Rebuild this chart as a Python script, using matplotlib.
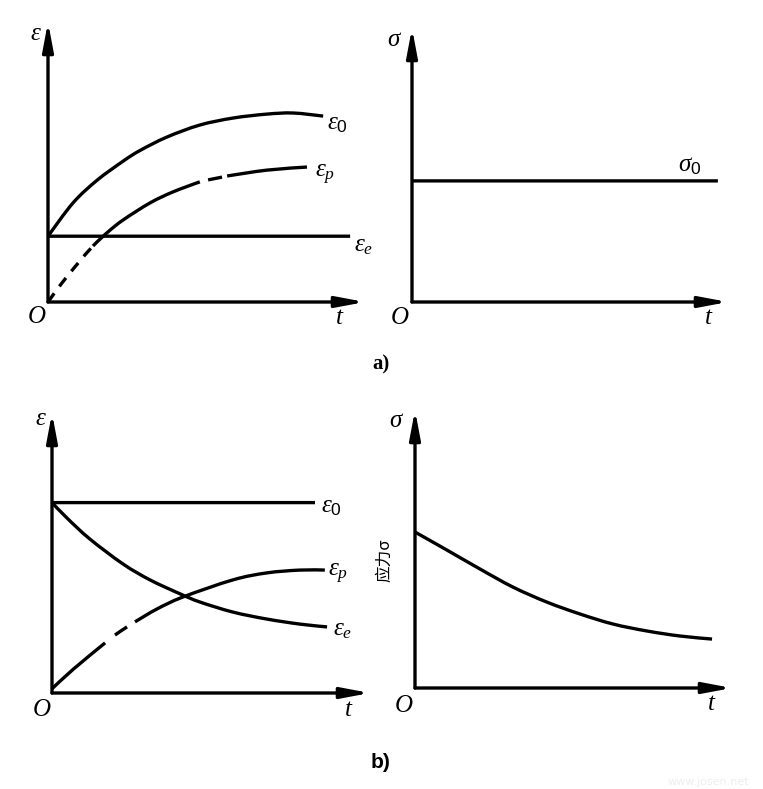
import matplotlib
matplotlib.use("Agg")
import matplotlib.pyplot as plt
from matplotlib.path import Path
from matplotlib.patches import PathPatch
import numpy as np

plt.rcParams["mathtext.fontset"] = "custom"
plt.rcParams["mathtext.it"] = "Liberation Serif:italic"
plt.rcParams["mathtext.rm"] = "Liberation Sans"
plt.rcParams["font.family"] = ["Liberation Serif", "Noto Sans CJK SC"]

# ── a) creep: constant stress, strain grows
t_a0 = [0, 0.79, 1.55, 2.37, 2.90, 3.75, 4.79, 5.84, 6.90, 7.73, 8.68]
eps0_a = [2.35, 3.54, 4.35, 5.03, 5.41, 5.89, 6.32, 6.57, 6.71, 6.75, 6.64]

t_ap = [0, 0.44, 0.95, 1.42, 1.89, 2.37, 3.22, 3.94, 4.79, 5.05, 5.49, 5.65, 6.91, 8.17]
epsp_a = [0, 0.68, 1.39, 2.00, 2.50, 2.93, 3.54, 3.93, 4.29, 4.36, 4.46, 4.50, 4.71, 4.82]
# which parts of eps_p are drawn dashed / solid (index ranges)
segs_ap = [(0, 3, "dash"), (3, 8, "solid"), (9, 10, "solid"), (11, 13, "solid")]

t_ae = [0, 9.53]
epse_a = [2.35, 2.35]

t_sig_a = [0, 9.68]
sig_a = [4.42, 4.42]

# ── b) relaxation: constant strain, stress decays
t_b0 = [0, 8.27]
eps0_b = [6.8, 6.8]

t_be = [0, 0.47, 1.19, 2.23, 3.08, 4.03, 4.65, 5.69, 6.76, 7.80, 8.65]
epse_b = [6.8, 6.25, 5.50, 4.61, 4.04, 3.54, 3.25, 2.89, 2.64, 2.46, 2.36]

t_bp = [0, 0.66, 1.67, 1.98, 2.36, 2.61, 3.30, 4.12, 5.69, 6.76, 7.80, 8.58]
epsp_b = [0.15, 0.84, 1.79, 2.07, 2.36, 2.54, 3.0, 3.43, 4.04, 4.29, 4.39, 4.39]
segs_bp = [(0, 2, "solid"), (3, 4, "solid"), (5, 11, "solid")]

t_sig_b = [0, 1.01, 2.05, 3.09, 4.16, 5.21, 6.25, 7.32, 8.36, 9.37]
sig_b = [5.61, 4.96, 4.28, 3.63, 3.09, 2.66, 2.30, 2.05, 1.87, 1.76]

LW = 2.4
FS = 18

fig = plt.figure(figsize=(7.63, 7.89), dpi=100)
W, H = 763, 789


def make_ax(x0, y0, xtip, ytip):
    ax = fig.add_axes([x0 / W, 1 - y0 / H, (xtip - x0) / W, (y0 - ytip) / H])
    ax.set_xlim(0, 10)
    ax.set_ylim(0, 10)
    ax.axis("off")
    arr = dict(arrowstyle="-|>,head_length=0.85,head_width=0.16", lw=LW,
               color="black", shrinkA=0, shrinkB=0, mutation_scale=20)
    ax.annotate("", xy=(1, 0), xytext=(0, 0), xycoords="axes fraction",
                arrowprops=arr)
    ax.annotate("", xy=(0, 1), xytext=(0, 0), xycoords="axes fraction",
                arrowprops=arr)
    return ax


def smooth_path(p, i0, i1):
    # cubic bezier through the read points (catmull-rom tangents)
    n = len(p)
    verts = [p[i0]]
    codes = [Path.MOVETO]
    for i in range(i0, i1):
        pm = p[max(i - 1, 0)]
        pn = p[min(i + 2, n - 1)]
        c1 = p[i] + (p[i + 1] - pm) / 6.0
        c2 = p[i + 1] - (pn - p[i]) / 6.0
        verts += [c1, c2, p[i + 1]]
        codes += [Path.CURVE4] * 3
    return Path(verts, codes)


def curve(ax, t, y, segs=None):
    p = np.column_stack([t, y]).astype(float)
    if segs is None:
        segs = [(0, len(p) - 1, "solid")]
    for i0, i1, st in segs:
        ls = (0, (3.2, 2.6)) if st == "dash" else "-"
        patch = PathPatch(smooth_path(p, i0, i1), facecolor="none",
                          edgecolor="black", lw=LW, linestyle=ls,
                          capstyle="butt", clip_on=False)
        ax.add_patch(patch)


def lab(ax, x, y, s, size=FS, **kw):
    ax.text(x, y, s, ha="center", va="center", fontsize=size, **kw)


# panel a, left
ax = make_ax(48, 302, 365, 22)
curve(ax, t_a0, eps0_a)
curve(ax, t_ap, epsp_a, segs_ap)
curve(ax, t_ae, epse_a)
lab(ax, -0.38, 9.57, r"$\varepsilon$")
lab(ax, -0.35, -0.54, "O", style="italic")
lab(ax, 9.18, -0.57, "t", style="italic")
lab(ax, 9.12, 6.36, r"$\varepsilon_\mathrm{0}$")
lab(ax, 8.74, 4.54, r"$\varepsilon_p$")
lab(ax, 9.97, 2.0, r"$\varepsilon_e$")

# panel a, right
ax = make_ax(412, 302, 728, 28)
curve(ax, t_sig_a, sig_a)
lab(ax, -0.54, 9.56, r"$\sigma$")
lab(ax, -0.38, -0.58, "O", style="italic")
lab(ax, 9.37, -0.58, "t", style="italic")
lab(ax, 8.8, 4.96, r"$\sigma_\mathrm{0}$")

# panel b, left
ax = make_ax(52, 693, 370, 413)
curve(ax, t_b0, eps0_b)
curve(ax, t_be, epse_b)
curve(ax, t_bp, epsp_b, segs_bp)
lab(ax, -0.35, 9.79, r"$\varepsilon$")
lab(ax, -0.31, -0.61, "O", style="italic")
lab(ax, 9.31, -0.61, "t", style="italic")
lab(ax, 8.8, 6.64, r"$\varepsilon_\mathrm{0}$")
lab(ax, 8.99, 4.25, r"$\varepsilon_p$")
lab(ax, 9.15, 2.25, r"$\varepsilon_e$")

# panel b, right
ax = make_ax(415, 688, 732, 410)
curve(ax, t_sig_b, sig_b)
lab(ax, -0.57, 9.6, r"$\sigma$")
lab(ax, -0.35, -0.65, "O", style="italic")
lab(ax, 9.34, -0.58, "t", style="italic")
ax.text(-0.95, 4.6, "应力σ", rotation=90, ha="center", va="center",
        fontsize=12, family=["Noto Sans CJK SC", "DejaVu Sans"])

fig.text(381 / W, 1 - 364 / H, "a)", ha="center", va="center",
         fontsize=15, fontweight="bold", family="Liberation Serif")
fig.text(381 / W, 1 - 762 / H, "b)", ha="center", va="center",
         fontsize=15, fontweight="bold", family="Liberation Sans")
fig.text(708 / W, 1 - 782 / H, "www.josen.net", ha="center", va="center",
         fontsize=8, color="#eeeeee", family="DejaVu Sans")

fig.savefig("out.png", dpi=100)
